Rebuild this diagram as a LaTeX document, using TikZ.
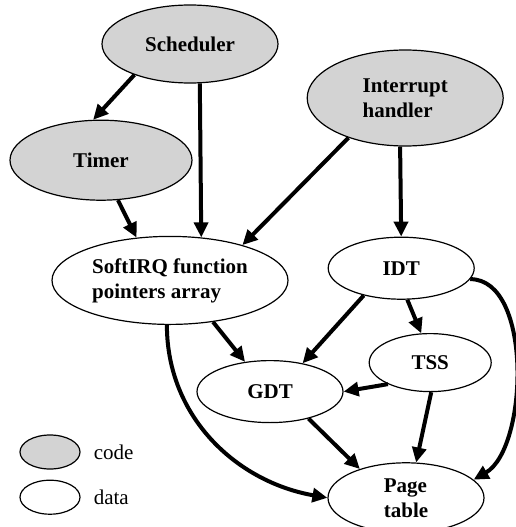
\documentclass[tikz,border=0pt]{standalone}
\usepackage{fontspec}
\setmainfont{Liberation Serif}
\usepackage{tikz}
\usetikzlibrary{positioning,arrows.meta,shapes.geometric}
\definecolor{codegray}{RGB}{211,211,211}

\begin{document}
\begin{tikzpicture}[x=1pt, y=1pt, node distance=30pt,
  every node/.style={font=\fontsize{21}{25}\selectfont},
  codenode/.style={draw, ellipse, fill=codegray, line width=1.2pt, inner sep=0pt, align=left, font=\fontsize{21}{25}\selectfont\bfseries},
  datanode/.style={draw, ellipse, fill=white, line width=1.2pt, inner sep=0pt, align=left, font=\fontsize{21}{25}\selectfont\bfseries},
  arr/.style={-{Triangle[length=15pt,width=14pt]}, line width=4pt}]
\useasboundingbox (0,0) rectangle (515,-527);
\node[codenode, minimum width=176pt, minimum height=78pt] (sched) at (190,-44) {Scheduler};
\node[codenode, below=36pt of sched, xshift=-89pt, minimum width=182pt, minimum height=80pt] (timer) {Timer};
\node[codenode, right=28pt of sched, yshift=-54pt, minimum width=196pt, minimum height=96pt] (intr) {Interrupt\\handler};
\node[datanode, below=35pt of timer, xshift=69pt, minimum width=236pt, minimum height=88pt] (softirq) {SoftIRQ function\\pointers array};
\node[datanode, below=90pt of intr, xshift=-4pt, minimum width=146pt, minimum height=62pt] (idt) {IDT};
\node[datanode, below=35pt of softirq, xshift=100pt, minimum width=146pt, minimum height=62pt] (gdt) {GDT};
\node[datanode, right=25pt of gdt, yshift=29pt, minimum width=122pt, minimum height=58pt] (tss) {TSS};
\node[datanode, below=39pt of gdt, xshift=136pt, minimum width=156pt, minimum height=70pt] (page) {Page\\table};
% legend
\node[codenode, minimum width=60pt, minimum height=34pt] (codekey) at (50,-452) {};
\node[datanode, below=10pt of codekey, minimum width=60pt, minimum height=34pt] (datakey) {};
\node[right=13pt of codekey, inner sep=0pt] (codelbl) {code};
\node[right=13pt of datakey, inner sep=0pt] (datalbl) {data};
% edges
\draw[arr] (sched.209.5) -- (timer.101);
\draw[arr] (sched.284.5) -- (softirq.54.8);
\draw[arr] (timer.293) -- (softirq.128);
\draw[arr] (intr.215.8) -- (softirq.26.8);
\draw[arr] (intr.264) -- (idt.north);
\draw[arr] (idt.216.9) -- (gdt.41);
\draw[arr] (idt.281) -- (tss.107.4);
\draw[arr] (idt.351.7) to[out=0, in=30, looseness=0.8] (page.15.8);
\draw[arr] (softirq.316.4) -- (gdt.130.7);
\draw[arr] (softirq.266) to[out=-90, in=170] (page.west);
\draw[arr] (tss.207.7) -- (gdt.east);
\draw[arr] (tss.272) -- (page.74);
\draw[arr] (gdt.325) -- (page.148.4);
\end{tikzpicture}
\end{document}
